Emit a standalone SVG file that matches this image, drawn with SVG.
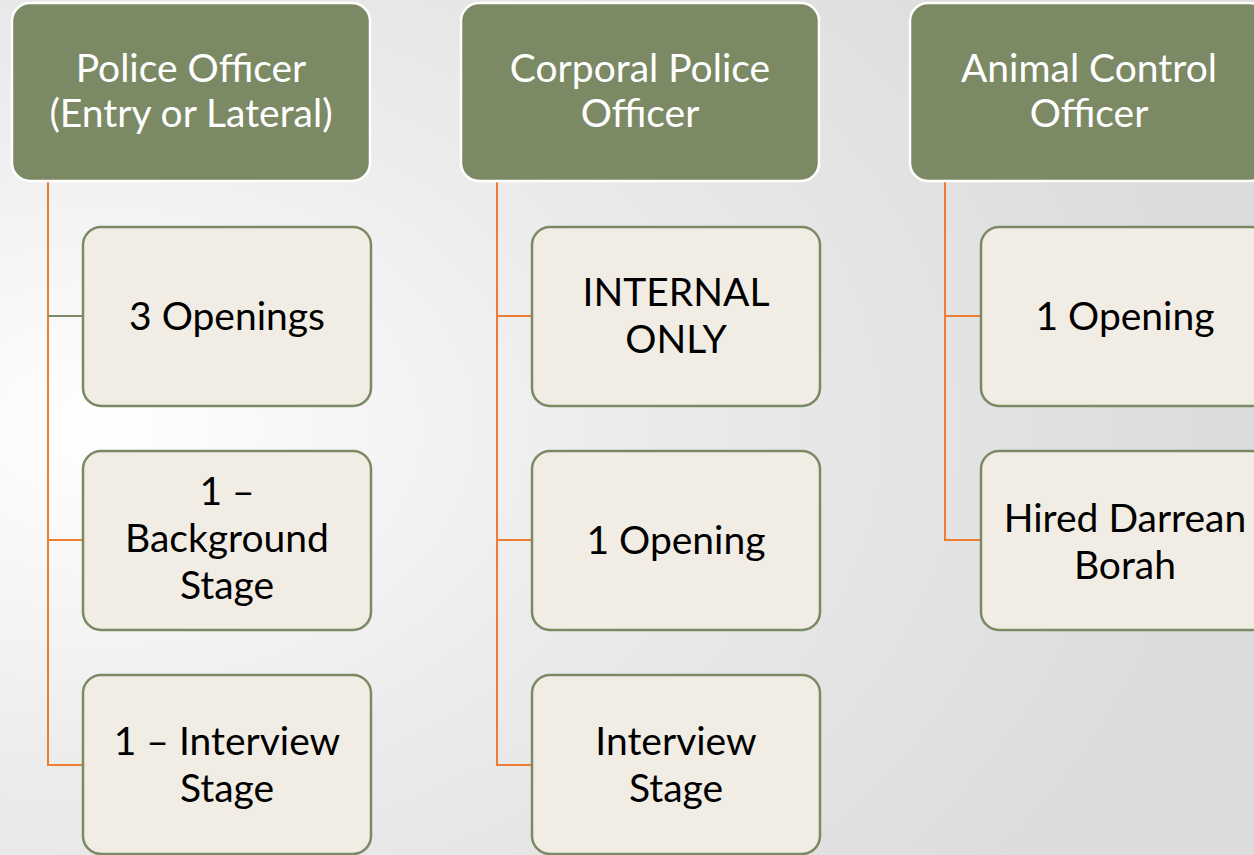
<svg xmlns="http://www.w3.org/2000/svg" width="1254" height="855" viewBox="0 0 1254 855">
<defs>
<radialGradient id="bg" cx="0.08" cy="0.5" r="0.9">
<stop offset="0" stop-color="#FFFFFF"/>
<stop offset="0.45" stop-color="#ECECEC"/>
<stop offset="1" stop-color="#DCDCDC"/>
</radialGradient>
<style>
.hdr{fill:#7B8A65;stroke:#FFFFFF;stroke-width:2.5}
.child{fill:#F2EDE4;stroke:#7B8A65;stroke-width:2.5}
.ht{font-family:Lato,"Liberation Sans",sans-serif;font-size:39px;fill:#FFFFFF;text-anchor:middle}
.ct{font-family:Lato,"Liberation Sans",sans-serif;font-size:39px;fill:#000000;text-anchor:middle}
.conn{fill:none;stroke:#ED7D31;stroke-width:2}
.conng{fill:none;stroke:#7B8A65;stroke-width:2}
</style>
</defs>
<rect width="1254" height="855" fill="url(#bg)"/>
<g id="connectors">
<path class="conn" d="M48 181 V765 H83 M48 540 H83"/>
<path class="conng" d="M48 316 H83"/>
<path class="conn" d="M497 181 V765 H532 M497 540 H532 M497 316 H532"/>
<path class="conn" d="M945 181 V540 H981 M945 316 H981"/>
</g>
<g id="h1"><rect class="hdr" x="12" y="3" width="358" height="178" rx="18"/><text class="ht" x="191" y="82">Police Officer</text><text class="ht" x="191" y="127">(Entry or Lateral)</text></g>
<g id="h2"><rect class="hdr" x="461" y="3" width="358" height="178" rx="18"/><text class="ht" x="640" y="82">Corporal Police</text><text class="ht" x="640" y="127">Officer</text></g>
<g id="h3"><rect class="hdr" x="910" y="3" width="358" height="178" rx="18"/><text class="ht" x="1089" y="82">Animal Control</text><text class="ht" x="1089" y="127">Officer</text></g>
<g id="c11"><rect class="child" x="83" y="227" width="288" height="179" rx="18"/><text class="ct" x="227" y="330">3 Openings</text></g>
<g id="c12"><rect class="child" x="83" y="451" width="288" height="179" rx="18"/><text class="ct" x="227" y="505">1 –</text><text class="ct" x="227" y="552">Background</text><text class="ct" x="227" y="599">Stage</text></g>
<g id="c13"><rect class="child" x="83" y="675" width="288" height="179" rx="18"/><text class="ct" x="227" y="755">1 – Interview</text><text class="ct" x="227" y="802">Stage</text></g>
<g id="c21"><rect class="child" x="532" y="227" width="288" height="179" rx="18"/><text class="ct" x="676" y="306">INTERNAL</text><text class="ct" x="676" y="353">ONLY</text></g>
<g id="c22"><rect class="child" x="532" y="451" width="288" height="179" rx="18"/><text class="ct" x="676" y="554">1 Opening</text></g>
<g id="c23"><rect class="child" x="532" y="675" width="288" height="179" rx="18"/><text class="ct" x="676" y="755">Interview</text><text class="ct" x="676" y="802">Stage</text></g>
<g id="c31"><rect class="child" x="981" y="227" width="288" height="179" rx="18"/><text class="ct" x="1125" y="330">1 Opening</text></g>
<g id="c32"><rect class="child" x="981" y="451" width="288" height="179" rx="18"/><text class="ct" x="1125" y="532">Hired Darrean</text><text class="ct" x="1125" y="579">Borah</text></g>
</svg>
